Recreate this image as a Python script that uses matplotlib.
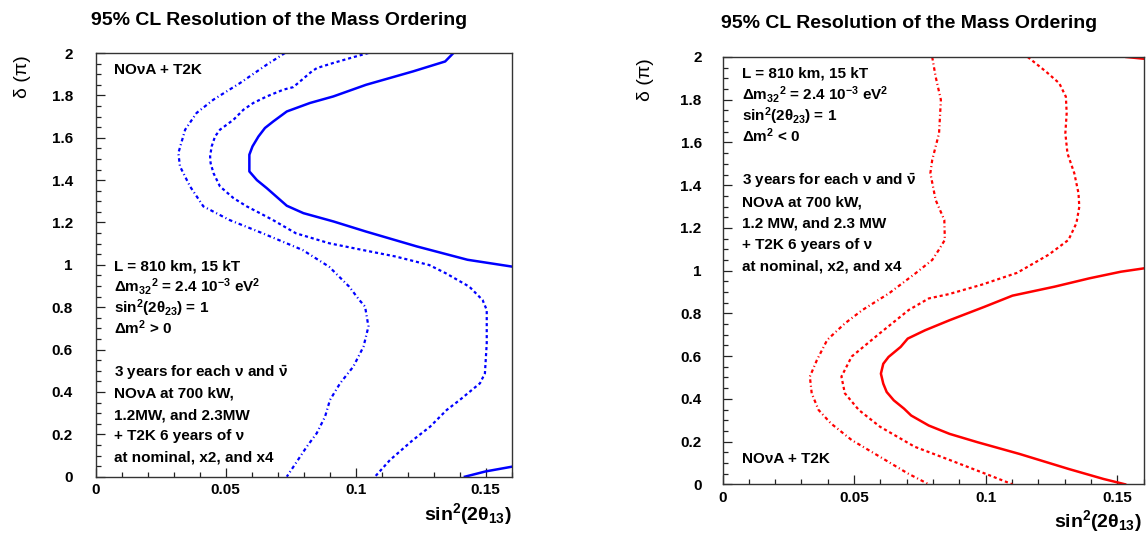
import matplotlib
matplotlib.use("Agg")
import matplotlib.pyplot as plt
import matplotlib.ticker as ticker

plt.rcParams['font.family'] = ['Liberation Sans', 'DejaVu Sans']
plt.rcParams['font.weight'] = 'bold'
plt.rcParams['mathtext.fontset'] = 'custom'
plt.rcParams['mathtext.rm'] = 'Liberation Sans:bold'
plt.rcParams['mathtext.it'] = 'Liberation Sans:bold'
plt.rcParams['mathtext.bf'] = 'Liberation Sans:bold'

# ---- data (x = sin^2(2theta13), y = delta / pi) ----
# normal ordering (left, blue)
no_solid_x = [0.1376, 0.1344, 0.122, 0.104, 0.0914, 0.0824, 0.0735, 0.0683, 0.0651, 0.0626,
              0.0603, 0.0591, 0.0591, 0.062, 0.0658, 0.0735, 0.0799, 0.0914, 0.104, 0.1235,
              0.143, 0.16]
no_solid_y = [2.0, 1.96, 1.913, 1.85, 1.795, 1.764, 1.724, 1.677, 1.646, 1.606,
              1.559, 1.52, 1.441, 1.40, 1.362, 1.279, 1.244, 1.205, 1.157, 1.087,
              1.024, 0.992]
no_solid2_x = [0.142, 0.15, 0.16]
no_solid2_y = [0.0, 0.025, 0.047]

no_dash_x = [0.1049, 0.099, 0.0914, 0.0851, 0.0831, 0.0786, 0.076, 0.0722, 0.0658, 0.0606,
             0.0568, 0.053, 0.0478, 0.0459, 0.0446, 0.044, 0.0442, 0.0453, 0.0478, 0.053,
             0.0581, 0.0630, 0.0681, 0.077, 0.0898, 0.1027, 0.1155, 0.1283, 0.1347, 0.1437,
             0.1488, 0.1504, 0.1504, 0.1497, 0.1478, 0.140, 0.135, 0.1286, 0.122, 0.1132,
             0.1074]
no_dash_y = [2.0, 1.98, 1.953, 1.929, 1.913, 1.866, 1.839, 1.827, 1.795, 1.764,
             1.732, 1.685, 1.638, 1.606, 1.559, 1.512, 1.48, 1.433, 1.37, 1.315,
             1.276, 1.245, 1.212, 1.149, 1.102, 1.07, 1.039, 0.999, 0.96, 0.897,
             0.834, 0.787, 0.63, 0.488, 0.441, 0.362, 0.315, 0.236, 0.173, 0.079,
             0.0]

no_dot_x = [0.0728, 0.0658, 0.0555, 0.0453, 0.0388, 0.0344, 0.0318, 0.0324, 0.0363, 0.0414,
            0.0514, 0.0642, 0.0796, 0.0898, 0.0975, 0.1014, 0.1036, 0.1049, 0.103, 0.0991,
            0.094, 0.0901, 0.0882, 0.085, 0.0812, 0.0735]
no_dot_y = [2.0, 1.945, 1.858, 1.78, 1.717, 1.638, 1.528, 1.465, 1.37, 1.276,
            1.212, 1.149, 1.07, 0.991, 0.897, 0.834, 0.803, 0.709, 0.614, 0.52,
            0.441, 0.362, 0.283, 0.205, 0.142, 0.0]

# inverted ordering (right, red)
io_solid_x = [0.1603, 0.1514, 0.1394, 0.1262, 0.1102, 0.0996, 0.0863, 0.077, 0.0704, 0.0677,
              0.0631, 0.0611, 0.0602, 0.0611, 0.0624, 0.0651, 0.069, 0.0717, 0.0784, 0.0863,
              0.0969, 0.1129, 0.1315, 0.1448, 0.153]
io_solid_y = [1.011, 0.995, 0.964, 0.925, 0.883, 0.831, 0.768, 0.721, 0.682, 0.643,
              0.596, 0.564, 0.518, 0.471, 0.432, 0.393, 0.354, 0.322, 0.275, 0.236,
              0.197, 0.142, 0.072, 0.025, 0.0]
io_solid2_x = [0.1535, 0.16]
io_solid2_y = [2.0, 1.992]

io_dash_x = [0.116, 0.123, 0.128, 0.1305, 0.1308, 0.1303, 0.1311, 0.1337, 0.1353, 0.1356,
             0.1345, 0.1315, 0.124, 0.112, 0.0987, 0.086, 0.0784, 0.0708, 0.0598, 0.0491,
             0.0452, 0.0465, 0.0518, 0.0598, 0.073, 0.0863, 0.0996, 0.1102]
io_dash_y = [2.0, 1.931, 1.877, 1.814, 1.737, 1.643, 1.549, 1.456, 1.362, 1.299,
             1.222, 1.144, 1.075, 0.99, 0.935, 0.89, 0.87, 0.816, 0.707, 0.598,
             0.504, 0.426, 0.348, 0.27, 0.176, 0.114, 0.051, 0.0]

io_dot_x = [0.0797, 0.081, 0.083, 0.0823, 0.0797, 0.079, 0.081, 0.0843, 0.0845, 0.0822,
            0.0797, 0.0734, 0.0633, 0.0532, 0.0465, 0.0398, 0.0359, 0.0332, 0.0339, 0.0365,
            0.0412, 0.0491, 0.0598, 0.0704, 0.0784]
io_dot_y = [2.0, 1.908, 1.799, 1.643, 1.518, 1.456, 1.331, 1.237, 1.144, 1.097,
            1.05, 0.988, 0.894, 0.816, 0.753, 0.676, 0.582, 0.504, 0.426, 0.348,
            0.285, 0.207, 0.129, 0.051, 0.0]

x_ticks = [0, 0.05, 0.1, 0.15]
y_ticks = [0, 0.2, 0.4, 0.6, 0.8, 1.0, 1.2, 1.4, 1.6, 1.8, 2.0]

title = "95% CL Resolution of the Mass Ordering"
exp_label = "NOνA + T2K"
info_no = ["L = 810 km, 15 kT",
           r"$\Delta$m$_{32}$$^{2}$ = 2.4 10$^{-3}$ eV$^{2}$",
           r"sin$^{2}$(2$\theta_{23}$) = 1",
           r"$\Delta$m$^{2}$ > 0",
           "",
           r"3 years for each ν and $\bar{\nu}$",
           "NOνA at 700 kW,",
           "1.2MW, and 2.3MW",
           "+ T2K 6 years of ν",
           "at nominal, x2, and x4"]
info_io = ["L = 810 km, 15 kT",
           r"$\Delta$m$_{32}$$^{2}$ = 2.4 10$^{-3}$ eV$^{2}$",
           r"sin$^{2}$(2$\theta_{23}$) = 1",
           r"$\Delta$m$^{2}$ < 0",
           "",
           r"3 years for each ν and $\bar{\nu}$",
           "NOνA at 700 kW,",
           "1.2 MW, and 2.3 MW",
           "+ T2K 6 years of ν",
           "at nominal, x2, and x4"]

W, H = 1146, 535
solid = '-'
dashed = (0, (1.4, 1.3))
dashdot = (0, (1.6, 1.3, 0.5, 1.3))


def setup_axes(ax, xpad, ypad):
    ax.set_xlim(0, 0.16)
    ax.set_ylim(0, 2)
    ax.xaxis.set_major_locator(ticker.FixedLocator(x_ticks))
    ax.xaxis.set_minor_locator(ticker.MultipleLocator(0.01))
    ax.yaxis.set_major_locator(ticker.FixedLocator(y_ticks))
    ax.yaxis.set_minor_locator(ticker.MultipleLocator(0.05))
    fmt = ticker.FuncFormatter(lambda v, p: '%g' % round(v, 3))
    ax.xaxis.set_major_formatter(fmt)
    ax.yaxis.set_major_formatter(fmt)
    ax.tick_params(which='both', direction='in', top=False, right=False, width=0.9, colors='#222222')
    ax.tick_params(which='major', length=6.5)
    ax.tick_params(which='minor', length=3.4)
    ax.tick_params(axis='x', which='major', pad=xpad, labelsize=11)
    ax.tick_params(axis='y', which='major', pad=ypad, labelsize=11)
    for lab in ax.get_xticklabels() + ax.get_yticklabels():
        lab.set_fontweight('bold')
        lab.set_color('black')
    for s in ax.spines.values():
        s.set_linewidth(1.0)
        s.set_color('#333333')


def px_axes(x0, y0, x1, y1):
    return [x0 / W, 1 - y1 / H, (x1 - x0) / W, (y1 - y0) / H]


fig = plt.figure(figsize=(W / 100, H / 100), dpi=100)

# left panel: normal ordering
ax1 = fig.add_axes(px_axes(95.7, 53, 511.7, 476.7))
setup_axes(ax1, 4.3, 16.5)
ax1.plot(no_dot_x, no_dot_y, color='#0000ff', lw=1.6, ls=dashdot, clip_on=True)
ax1.plot(no_dash_x, no_dash_y, color='#0000ff', lw=1.6, ls=dashed)
ax1.plot(no_solid_x, no_solid_y, color='#0000ff', lw=1.8, ls=solid)
ax1.plot(no_solid2_x, no_solid2_y, color='#0000ff', lw=1.8, ls=solid)
ax1.text(0.044, 0.96, exp_label, transform=ax1.transAxes, fontsize=11, va='center', ha='left')
for i, line in enumerate(info_no):
    if line:
        yb = 270 + 21.3 * i
        ax1.text(0.044, (476.7 - yb) / 423.7, line, transform=ax1.transAxes,
                 fontsize=11, va='baseline', ha='left')

# right panel: inverted ordering
ax2 = fig.add_axes(px_axes(722.5, 57, 1143.5, 484.3))
setup_axes(ax2, 5.0, 15.0)
ax2.plot(io_dot_x, io_dot_y, color='#ff0000', lw=1.6, ls=dashdot)
ax2.plot(io_dash_x, io_dash_y, color='#ff0000', lw=1.6, ls=dashed)
ax2.plot(io_solid_x, io_solid_y, color='#ff0000', lw=1.8, ls=solid)
ax2.plot(io_solid2_x, io_solid2_y, color='#ff0000', lw=1.8, ls=solid)
ax2.text(0.046, (484.3 - 463) / 427.3, exp_label, transform=ax2.transAxes,
         fontsize=11, va='baseline', ha='left')
for i, line in enumerate(info_io):
    if line:
        yb = 78 + 21.4 * i
        ax2.text(0.046, (484.3 - yb) / 427.3, line, transform=ax2.transAxes,
                 fontsize=11, va='baseline', ha='left')

# titles and axis labels placed like the ROOT canvas
fig.text(279 / W, 1 - 25 / H, title, fontsize=14, ha='center', va='baseline')
fig.text(909 / W, 1 - 28 / H, title, fontsize=14, ha='center', va='baseline')
fig.text(22.5 / W, 1 - 55 / H, "δ (π)", fontsize=14, rotation=90, ha='center', va='top',
         fontweight='normal')
fig.text(646 / W, 1 - 58 / H, "δ (π)", fontsize=14, rotation=90, ha='center', va='top',
         fontweight='normal')
fig.text(512 / W, 1 - 520 / H, r"sin$^{2}$(2$\theta_{13}$)", fontsize=14, ha='right', va='baseline')
fig.text(1142 / W, 1 - 527 / H, r"sin$^{2}$(2$\theta_{13}$)", fontsize=14, ha='right', va='baseline')

fig.savefig("out.png", dpi=100, facecolor='white')
